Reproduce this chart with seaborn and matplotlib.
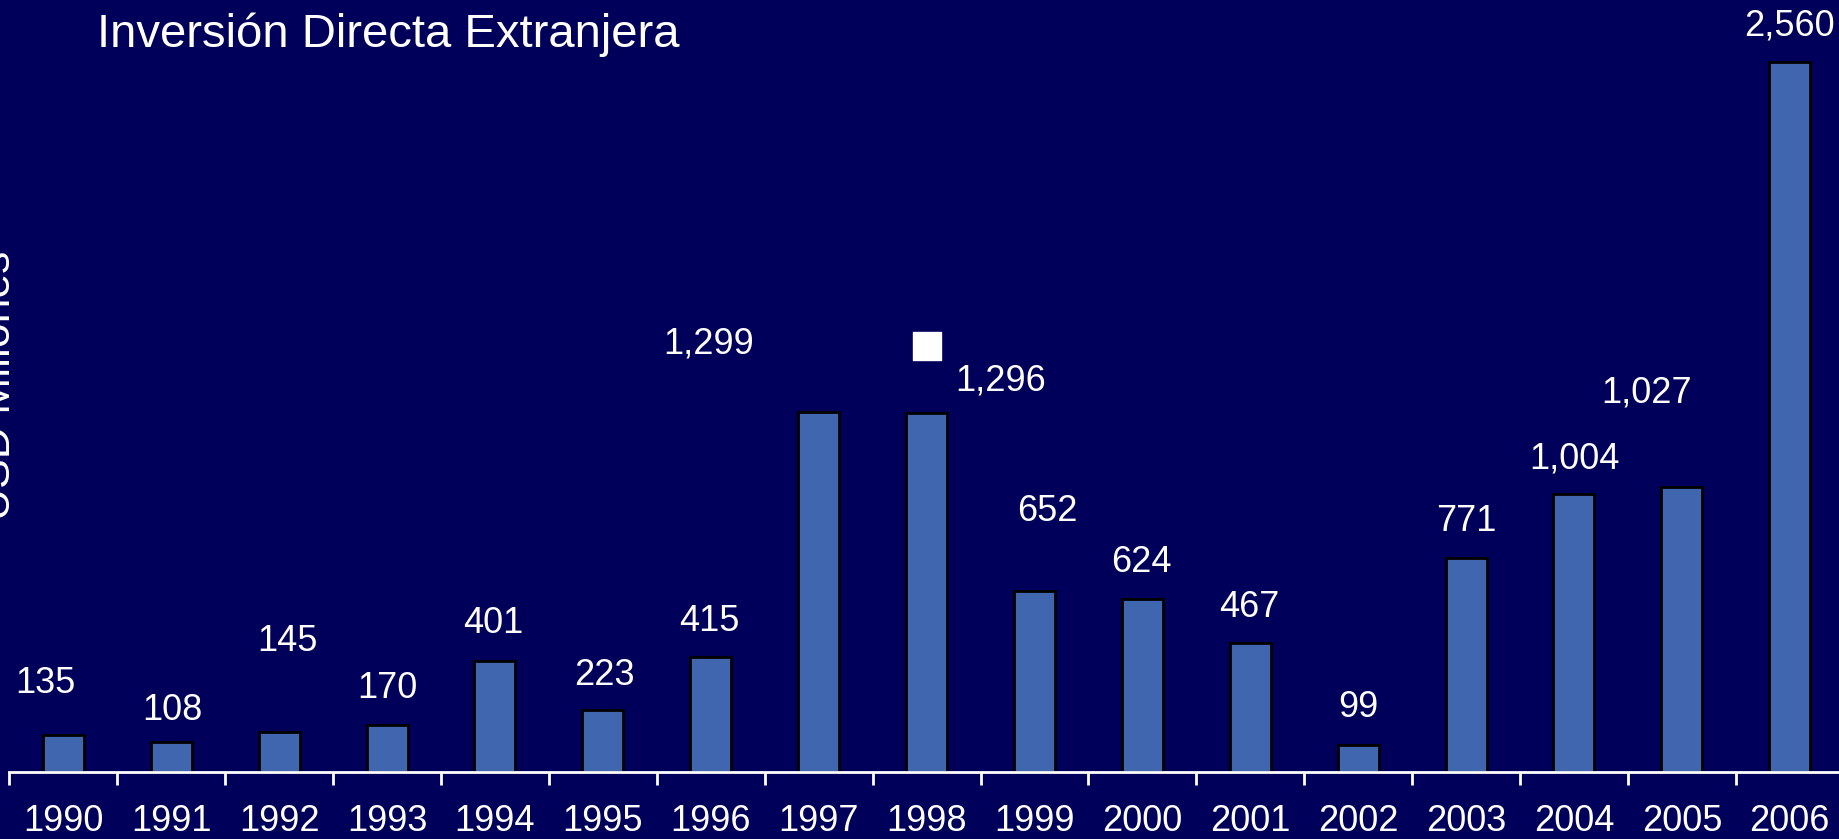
import matplotlib
matplotlib.use("Agg")
import matplotlib.pyplot as plt
import seaborn as sns
import pandas as pd

# === Data ===
years = ["1990", "1991", "1992", "1993", "1994", "1995", "1996", "1997", "1998",
         "1999", "2000", "2001", "2002", "2003", "2004", "2005", "2006"]
fdi = [135, 108, 145, 170, 401, 223, 415, 1299, 1296,
       652, 624, 467, 99, 771, 1004, 1027, 2560]

# where the value labels sit in the original slide (category x, value y)
label_x = [-0.17, 1.01, 2.08, 3.00, 3.98, 5.01, 5.99, 5.98, 8.69,
           9.12, 9.99, 10.99, 12.0, 13.0, 14.0, 14.67, 16.0]
label_y = [318, 221, 470, 301, 534, 347, 542, 1545, 1409,
           940, 754, 593, 233, 902, 1130, 1367, 2691]

df = pd.DataFrame({"year": years, "fdi": fdi})

bg = "#00005A"
bar_color = "#4166B0"

sns.set_style("dark")
plt.rcParams["font.family"] = ["Liberation Sans", "DejaVu Sans"]

fig = plt.figure(figsize=(18.39, 8.39), dpi=100, facecolor=bg)
ax = fig.add_axes([9.4 / 1839, 67 / 839, 1834.3 / 1839, 772 / 839])
ax.set_facecolor(bg)

sns.barplot(data=df, x="year", y="fdi", ax=ax, color=bar_color, saturation=1,
            width=0.38, edgecolor="black", linewidth=2)

ax.set_xlim(-0.5, 16.5)
ax.set_ylim(0, 2784)

for spine in ["top", "right", "left"]:
    ax.spines[spine].set_visible(False)
ax.spines["bottom"].set_color("white")
ax.spines["bottom"].set_linewidth(2)

ax.set_yticks([])
ax.set_xticks(range(len(years)))
ax.set_xticklabels(years)
ax.set_xticks([i - 0.5 for i in range(len(years) + 1)], minor=True)
ax.tick_params(axis="x", which="both", bottom=True)
ax.tick_params(axis="x", which="major", length=0, pad=23, labelsize=26, colors="white")
ax.tick_params(axis="x", which="minor", length=9, width=2, color="white", direction="out")
ax.set_xlabel("")
ax.set_ylabel("")
ax.grid(False)

for x, y, v in zip(label_x, label_y, fdi):
    ax.text(x, y, f"{v:,}", ha="center", va="center", fontsize=26, color="white")

# white square marker from the slide
ax.scatter([8], [1536], marker="s", s=430, color="white", zorder=5)

fig.text(97 / 1839, 1 - 35 / 839, "Inversión Directa Extranjera", ha="left", va="center",
         fontsize=34, color="white")
fig.text(19 / 1839, 1 - 385 / 839, "USD Millones", rotation=90, ha="right", va="center",
         fontsize=32, color="white")

fig.savefig("out.png", dpi=100, facecolor=bg)
